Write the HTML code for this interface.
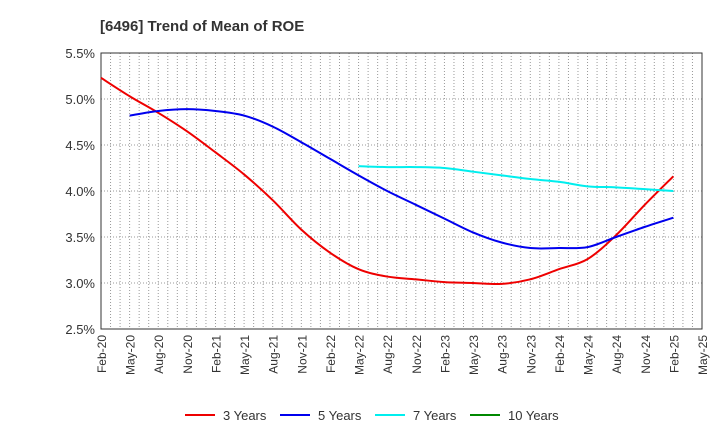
<!DOCTYPE html>
<html><head><meta charset="utf-8"><style>
body{margin:0;background:#fff;font-family:"Liberation Sans",Arial,sans-serif}
svg text{font-family:"Liberation Sans",Arial,sans-serif}
</style></head><body>
<svg id="chart" width="720" height="440" xmlns="http://www.w3.org/2000/svg">
<text x="100" y="31" font-size="15" font-weight="bold" fill="#333">[6496]  Trend of Mean of ROE</text>
<g id="grid"></g><g id="axes"></g><g id="series"></g><g id="legend"></g>
</svg>
<script>
const xLabels=["Feb-20","May-20","Aug-20","Nov-20","Feb-21","May-21","Aug-21","Nov-21","Feb-22","May-22","Aug-22","Nov-22","Feb-23","May-23","Aug-23","Nov-23","Feb-24","May-24","Aug-24","Nov-24","Feb-25","May-25"];
const yTicks=[2.5,3.0,3.5,4.0,4.5,5.0,5.5];
const s3=[5.23,5.03,4.85,4.65,4.42,4.18,3.9,3.58,3.33,3.15,3.07,3.04,3.01,3.0,2.99,3.04,3.15,3.26,3.52,3.85,4.16];
const s5=[null,4.82,4.87,4.89,4.87,4.82,4.7,4.53,4.35,4.17,4.0,3.85,3.7,3.55,3.44,3.38,3.38,3.39,3.5,3.61,3.71];
const s7=[null,null,null,null,null,null,null,null,null,4.27,4.26,4.26,4.25,4.21,4.17,4.13,4.1,4.05,4.04,4.02,4.0];
const s10=[];
const NS="http://www.w3.org/2000/svg";
const L=101,R=702,T=53,B=329;
const xq=i=>L+(R-L)*i/21;
const ym=v=>B-(v-2.5)/3*(B-T);
function mk(t,a,p){const e=document.createElementNS(NS,t);for(const k in a)e.setAttribute(k,a[k]);p.appendChild(e);return e;}
const grid=document.getElementById('grid'),axes=document.getElementById('axes'),ser=document.getElementById('series'),leg=document.getElementById('legend');
for(let m=1;m<63;m++){const x=L+(R-L)*m/63;const l=mk('line',{x1:x,x2:x,y1:T,y2:B,stroke:'#999','stroke-width':1,'stroke-dasharray':'1,2'},grid);
}
yTicks.forEach(v=>{const y=ym(v);const l=mk('line',{x1:L,x2:R,y1:y,y2:y,stroke:'#999','stroke-dasharray':'1,2'},grid);

const t=mk('text',{x:L-6,y:y+5,'text-anchor':'end','font-size':13,fill:'#333'},axes);t.textContent=v.toFixed(1)+'%';
});
const fr=mk('rect',{x:L,y:T,width:R-L,height:B-T,fill:'none',stroke:'#333','stroke-width':1},axes);

xLabels.forEach((s,i)=>{const x=xq(i);const t=mk('text',{transform:`translate(${x+5},${B+6}) rotate(-90)`,'text-anchor':'end','font-size':12,fill:'#333'},axes);t.textContent=s;
});
function path(arr){const p=[];arr.forEach((v,i)=>{if(v!=null)p.push([xq(i),ym(v)]);});if(p.length<2)return '';
let d=`M${p[0][0]},${p[0][1]}`;for(let i=0;i<p.length-1;i++){const p0=p[i-1]||p[i],p1=p[i],p2=p[i+1],p3=p[i+2]||p2;
d+=` C${p1[0]+(p2[0]-p0[0])/6},${p1[1]+(p2[1]-p0[1])/6} ${p2[0]-(p3[0]-p1[0])/6},${p2[1]-(p3[1]-p1[1])/6} ${p2[0]},${p2[1]}`;}return d;}
const series=[[s3,'#ee0000','3 Years'],[s5,'#0000ee','5 Years'],[s7,'#00eeee','7 Years'],[s10,'#008800','10 Years']];
const lx=[185,280,375,470];
series.forEach((s,k)=>{const d=path(s[0]);if(d){const e=mk('path',{d,fill:'none',stroke:s[1],'stroke-width':2},ser);
}
const g=mk('g',{},leg);
mk('line',{x1:lx[k],x2:lx[k]+30,y1:415,y2:415,stroke:s[1],'stroke-width':2},g);
const t=mk('text',{x:lx[k]+38,y:420,'font-size':13,fill:'#333'},g);t.textContent=s[2];});
</script>
</body></html>
